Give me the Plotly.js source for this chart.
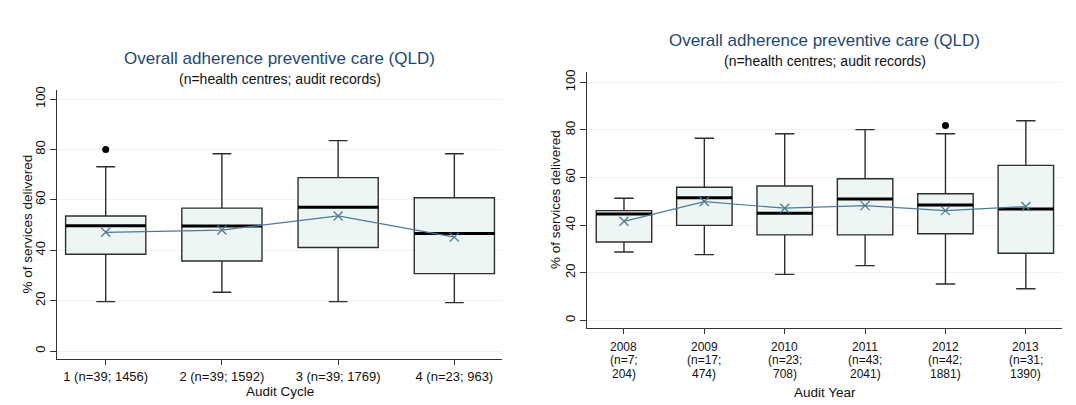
<!DOCTYPE html>
<html><head><meta charset="utf-8">
<script src="https://cdn.plot.ly/plotly-3.0.1.min.js"></script>
<style>
html,body{margin:0;padding:0;background:#fff;overflow:hidden;width:1076px;height:405px;}
.frame{position:absolute;box-sizing:border-box;border:1px solid #e6edf3;pointer-events:none;}
.plot{position:absolute;}
</style>
</head><body>
<div class="frame" style="left:7px;top:33px;width:526px;height:400px;"></div>
<div class="frame" style="left:533px;top:13px;width:560px;height:420px;"></div>
<div id="p1" class="plot" style="left:7px;top:33px;width:526px;height:372px;"></div>
<div id="p2" class="plot" style="left:533px;top:13px;width:543px;height:392px;"></div>
<script>
// ---- Left panel: by audit cycle ----
const cycles = ['1', '2', '3', '4'];
const cycleCentres = [39, 39, 39, 23];
const cycleRecords = [1456, 1592, 1769, 963];
const cycleQ1 = [38.4, 35.7, 41.1, 30.7];
const cycleMedian = [49.7, 49.6, 57.0, 46.6];
const cycleQ3 = [53.6, 56.7, 68.8, 60.8];
const cycleLowWhisker = [19.6, 23.3, 19.6, 19.2];
const cycleHighWhisker = [73.1, 78.3, 83.5, 78.3];
const cycleMean = [47.1, 48.0, 53.6, 45.2];
const cycleOutlierIdx = [0];
const cycleOutlierVal = [80.0];

// ---- Right panel: by audit year ----
const years = ['2008', '2009', '2010', '2011', '2012', '2013'];
const yearCentres = [7, 17, 23, 43, 42, 31];
const yearRecords = [204, 474, 708, 2041, 1881, 1390];
const yearQ1 = [32.9, 39.9, 35.9, 35.9, 36.4, 28.2];
const yearMedian = [44.7, 51.5, 45.0, 51.0, 48.5, 46.8];
const yearQ3 = [46.1, 55.9, 56.4, 59.5, 53.2, 65.1];
const yearLowWhisker = [28.7, 27.6, 19.3, 23.0, 15.3, 13.3];
const yearHighWhisker = [51.3, 76.5, 78.4, 80.1, 78.4, 83.8];
const yearMean = [41.6, 49.9, 47.1, 48.2, 46.1, 47.8];
const yearOutlierIdx = [4];
const yearOutlierVal = [81.8];

const yTicks = [0, 20, 40, 60, 80, 100];
const titleText = 'Overall adherence preventive care (QLD)';
const subtitleText = '(n=health centres; audit records)';
const yTitle = '% of services delivered';

const FONT = 'Liberation Sans, Arial, sans-serif';
const TITLE_COLOR = '#1f4870';
const MEAN_COLOR = '#4a7c98';
const BOX_W = 0.69;

function buildTraces(n, q1, med, q3, lo, hi, mean, oIdx, oVal, whiskerW) {
  const idx = Array.from({length: n}, (_, i) => i);
  const box = {
    type: 'box', x: idx, q1: q1, median: med, q3: q3,
    lowerfence: lo, upperfence: hi, boxpoints: false,
    width: BOX_W, whiskerwidth: whiskerW,
    fillcolor: '#edf5f5', line: {color: '#2e2e2e', width: 1.4},
    hoverinfo: 'skip', showlegend: false
  };
  const mx = [], my = [];
  idx.forEach(i => { mx.push(i - BOX_W / 2, i + BOX_W / 2, null); my.push(med[i], med[i], null); });
  const medians = {type: 'scatter', mode: 'lines', x: mx, y: my,
    line: {color: '#000', width: 3}, hoverinfo: 'skip', showlegend: false};
  const means = {type: 'scatter', mode: 'lines+markers', x: idx, y: mean,
    line: {color: MEAN_COLOR, width: 1.2},
    marker: {symbol: 'x-thin', size: 9, line: {color: MEAN_COLOR, width: 1.3}},
    hoverinfo: 'skip', showlegend: false};
  const outs = {type: 'scatter', mode: 'markers', x: oIdx, y: oVal,
    marker: {symbol: 'circle', size: 7, color: '#000'}, hoverinfo: 'skip', showlegend: false};
  return [box, medians, means, outs];
}

function baseLayout(w, h, m, xr, yr, n) {
  return {
    width: w, height: h, margin: m,
    paper_bgcolor: '#fff', plot_bgcolor: '#fff',
    font: {family: FONT, size: 13, color: '#111'},
    showlegend: false,
    xaxis: {range: xr, tickmode: 'array', tickvals: Array.from({length: n}, (_, i) => i),
      showgrid: false, zeroline: false, showline: true, linecolor: '#333', linewidth: 1,
      ticks: 'outside', ticklen: 5, tickcolor: '#333', fixedrange: true},
    yaxis: {range: yr, tickmode: 'array', tickvals: yTicks, ticktext: yTicks.map(String),
      tickangle: -90, showgrid: true, gridcolor: '#eef1f5', gridwidth: 1, zeroline: false,
      showline: true, linecolor: '#333', linewidth: 1, ticks: 'outside', ticklen: 6,
      tickcolor: '#333', tickfont: {size: 13, color: '#111'}, fixedrange: true},
    annotations: []
  };
}

function addTitles(layout, mainShift, subShift, yTitleShift, xTitleShift, xTitle) {
  layout.annotations.push(
    {text: titleText, xref: 'paper', yref: 'paper', x: 0.5, y: 1, xanchor: 'center', yanchor: 'middle',
     yshift: mainShift, showarrow: false, font: {size: 17, color: TITLE_COLOR}},
    {text: subtitleText, xref: 'paper', yref: 'paper', x: 0.5, y: 1, xanchor: 'center', yanchor: 'middle',
     yshift: subShift, showarrow: false, font: {size: 14, color: '#111'}},
    {text: yTitle, xref: 'paper', yref: 'paper', x: 0, y: 0.5, xanchor: 'center', yanchor: 'middle',
     xshift: yTitleShift, textangle: -90, showarrow: false, font: {size: 13.5, color: '#111'}},
    {text: xTitle, xref: 'paper', yref: 'paper', x: 0.5, y: 0, xanchor: 'center', yanchor: 'middle',
     yshift: xTitleShift, showarrow: false, font: {size: 13.5, color: '#111'}}
  );
}

// Left
const L1 = baseLayout(526, 372, {l: 50, r: 31, t: 57, b: 46, pad: 0}, [-0.419, 3.41], [-3.17, 103.57], cycles.length);
L1.xaxis.ticktext = cycles.map((c, i) => c + ' (n=' + cycleCentres[i] + '; ' + cycleRecords[i] + ')');
L1.xaxis.tickfont = {size: 13, color: '#111'};
addTitles(L1, 32, 11, -30, -32, 'Audit Cycle');
Plotly.newPlot('p1', buildTraces(cycles.length, cycleQ1, cycleMedian, cycleQ3, cycleLowWhisker,
  cycleHighWhisker, cycleMean, cycleOutlierIdx, cycleOutlierVal, 0.235), L1, {displayModeBar: false, staticPlot: true});

// Right
const L2 = baseLayout(543, 392, {l: 54, r: 14, t: 59, b: 77, pad: 0}, [-0.46, 5.45], [-3.2, 104.3], years.length);
L2.xaxis.showticklabels = false;
years.forEach((yr, i) => {
  const lines = [yr, '(n=' + yearCentres[i] + ';', yearRecords[i] + ')'];
  lines.forEach((t, k) => L2.annotations.push({text: t, xref: 'x', yref: 'paper', x: i, y: 0,
    xanchor: 'center', yanchor: 'middle', yshift: -(18.5 + 13.6 * k), showarrow: false,
    font: {size: 12, color: '#111'}}));
});
addTitles(L2, 32, 11, -32, -64, 'Audit Year');
Plotly.newPlot('p2', buildTraces(years.length, yearQ1, yearMedian, yearQ3, yearLowWhisker,
  yearHighWhisker, yearMean, yearOutlierIdx, yearOutlierVal, 0.35), L2, {displayModeBar: false, staticPlot: true});
</script>
</body></html>
